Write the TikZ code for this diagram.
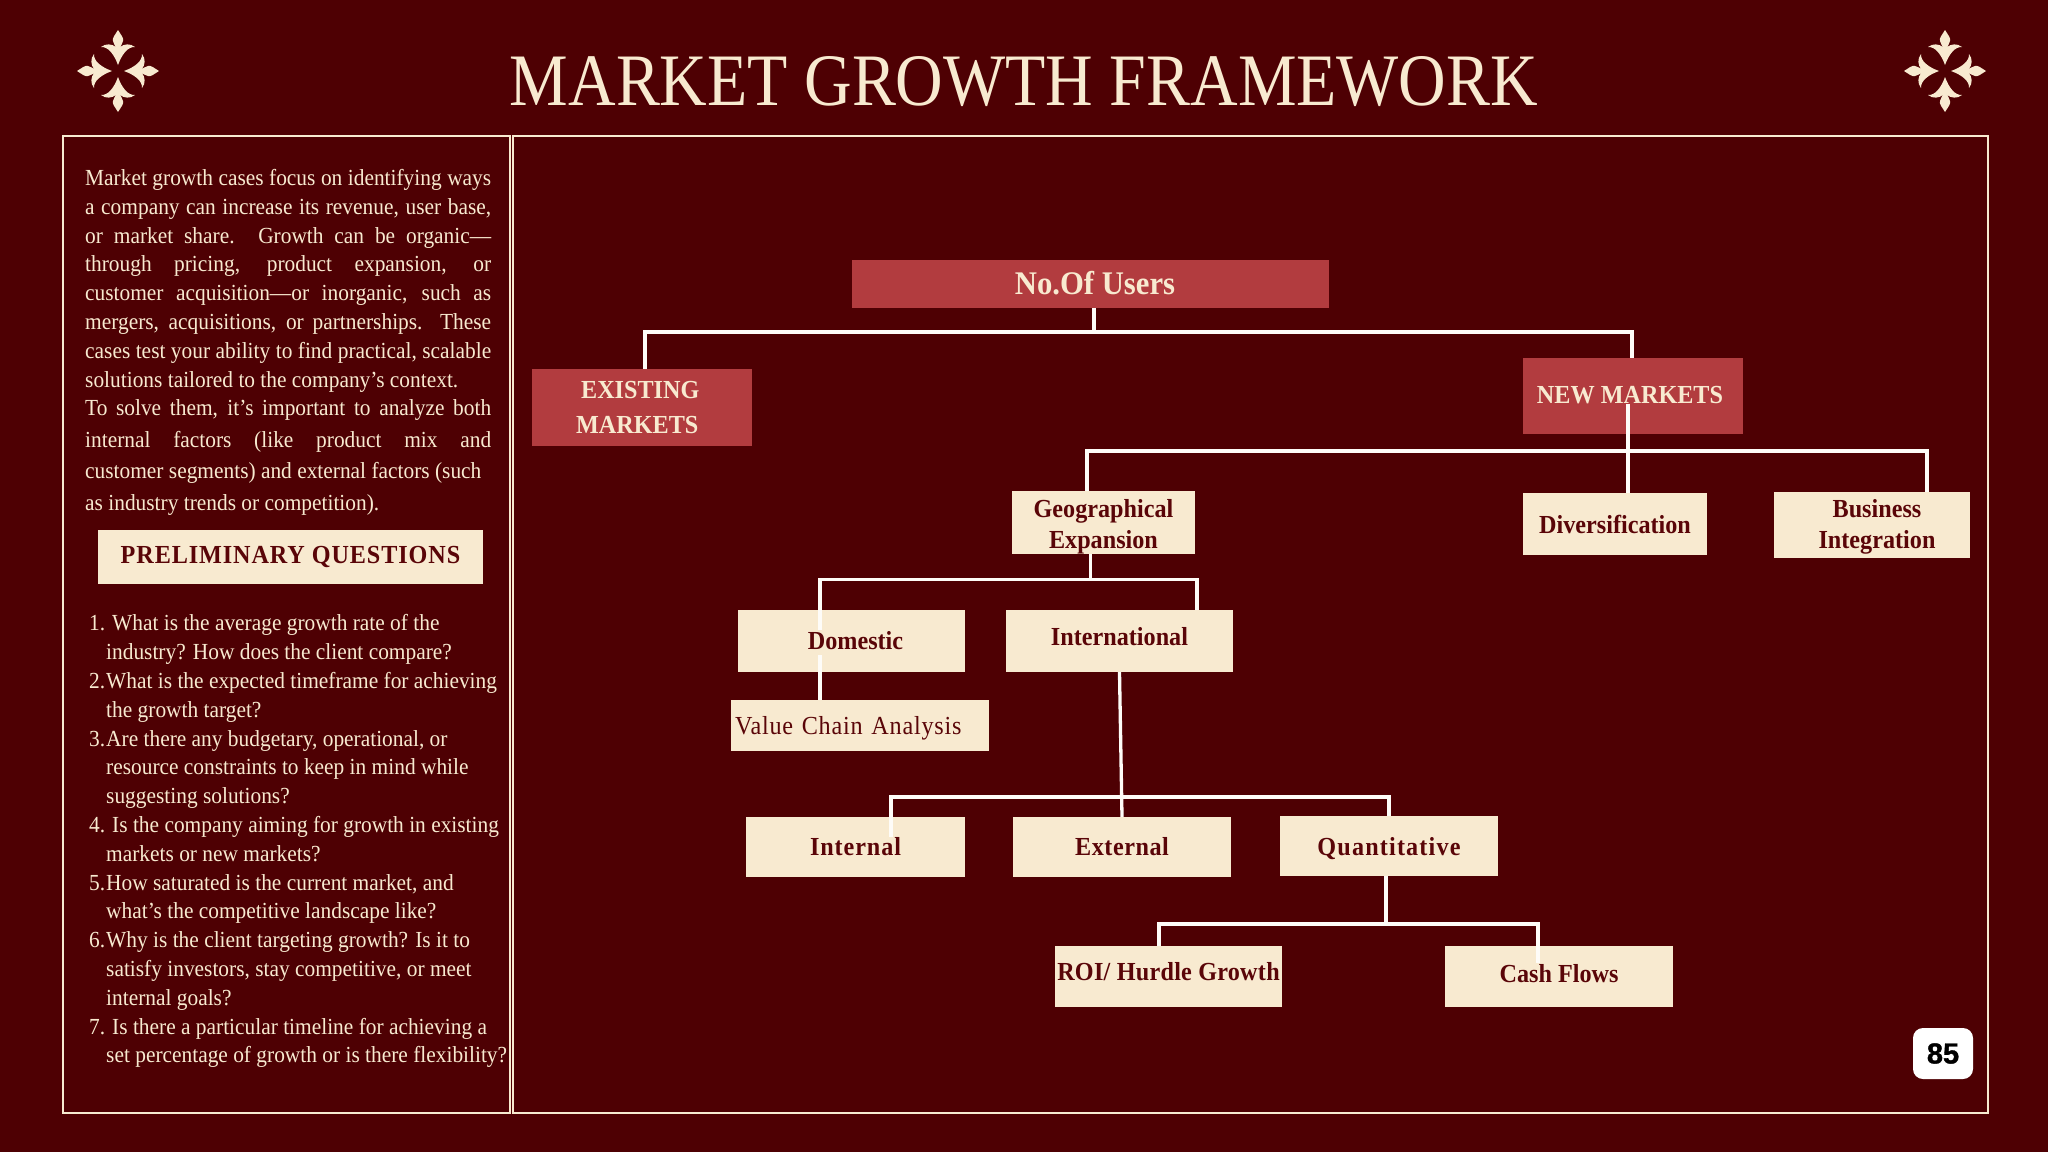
\documentclass[tikz,border=0pt]{standalone}
\usepackage{fontspec}
\usepackage{tikz}
\setmainfont{Liberation Serif}[FakeStretch=0.93]
\newfontfamily\titlefont{Liberation Serif}[FakeStretch=0.89]
\newfontfamily\pagefont{Liberation Sans}[BoldFeatures={FakeBold=1.2}]
\definecolor{wine}{HTML}{4E0003}
\definecolor{cream}{HTML}{F8EAD0}
\definecolor{brick}{HTML}{B23C3F}
\definecolor{inkred}{HTML}{5A0508}
\tikzset{
  redbox/.style={rectangle, fill=brick, text=cream, inner sep=0pt, align=center, font=\fontsize{26}{35}\selectfont\bfseries},
  creambox/.style={rectangle, fill=cream, text=inkred, inner sep=0pt, align=center, font=\fontsize{26}{31}\selectfont\bfseries},
  conn/.style={line width=3.3pt, draw=white!85!cream},
  frameline/.style={line width=2.5pt, draw=cream},
  bodytext/.style={text=cream, inner sep=0pt, anchor=north west}
}
\begin{document}
\begin{tikzpicture}[x=1pt, y=-1pt]
\useasboundingbox [fill=wine] (0,0) rectangle (2048,1152);

% ornaments
\foreach \cx in {118,1945}
  \foreach \ang in {0,90,180,270}
    \fill [cream, shift={(\cx,71)}, rotate=\ang] (0,-41) .. controls (-3,-36) and (-6,-33) .. (-5,-30) .. controls (-4,-27) and (-3,-25) .. (-2,-24) .. controls (-6,-27) and (-12,-28) .. (-17,-24) .. controls (-10,-24.5) and (-4,-17) .. (0,-6) .. controls (4,-17) and (10,-24.5) .. (17,-24) .. controls (12,-28) and (6,-27) .. (2,-24) .. controls (3,-25) and (4,-27) .. (5,-30) .. controls (6,-33) and (3,-36) .. (0,-41) -- cycle;

\node [text=cream, inner sep=0pt, font=\titlefont\fontsize{74}{74}\selectfont] (title) at (1024,82) {MARKET GROWTH FRAMEWORK};

% panels
\draw [frameline] (63,136) rectangle (510,1113);
\draw [frameline] (513,136) rectangle (1988,1113);

% left panel
\node [bodytext, text width=406pt, align=justify, font=\fontsize{23}{28.8}\selectfont] (intro) at (85,169) {Market growth cases focus on identifying ways\linebreak a company can increase its revenue, user base,\linebreak or market share. Growth can be organic---\linebreak through pricing, product expansion, or\linebreak customer acquisition---or inorganic, such as\linebreak mergers, acquisitions, or partnerships. These\linebreak cases test your ability to find practical, scalable\linebreak solutions tailored to the company's context.\\ \makebox[406pt][s]{To solve them, it's important to analyze both}};
\node [bodytext, text width=406pt, align=justify, font=\fontsize{23}{31.3}\selectfont] (intromore) at (85,431) {internal factors (like product mix and\linebreak customer segments) and external factors (such\\ as industry trends or competition).};
\node [creambox, minimum width=385pt, minimum height=54pt, font=\fontsize{26}{30}\selectfont\bfseries] (prelim) at (290.5,557) {\addfontfeature{LetterSpace=3.5}PRELIMINARY QUESTIONS};
\node [bodytext, align=left, font=\fontsize{23}{28.8}\selectfont] (questions) at (89,614.5) {1.\hspace{7pt}What is the average growth rate of the\\
\hspace*{17pt}industry? How does the client compare?\\
2.\hspace{1pt}What is the expected timeframe for achieving\\
\hspace*{17pt}the growth target?\\
3.\hspace{1pt}Are there any budgetary, operational, or\\
\hspace*{17pt}resource constraints to keep in mind while\\
\hspace*{17pt}suggesting solutions?\\
4.\hspace{7pt}Is the company aiming for growth in existing\\
\hspace*{17pt}markets or new markets?\\
5.\hspace{1pt}How saturated is the current market, and\\
\hspace*{17pt}what's the competitive landscape like?\\
6.\hspace{1pt}Why is the client targeting growth? Is it to\\
\hspace*{17pt}satisfy investors, stay competitive, or meet\\
\hspace*{17pt}internal goals?\\
7.\hspace{7pt}Is there a particular timeline for achieving a\\
\hspace*{17pt}set percentage of growth or is there flexibility?};

% tree
\node [redbox, minimum width=477pt, minimum height=48pt, font=\fontsize{33}{33}\selectfont\bfseries] (users) at (1090.5,284) {\raisebox{1.5pt}{\hspace*{9pt}No.Of Users}};
\node [redbox, minimum width=219.5pt, minimum height=77pt] (existing) at (641.75,407.5) {EXISTING\hspace*{3pt}\\ MARKETS\hspace*{9pt}};
\node [redbox, minimum width=220pt, minimum height=76pt] (newmarkets) at (1633,396) {\raisebox{-7.5pt}[0pt][0pt]{NEW MARKETS\hspace*{6pt}}};
\node [creambox, minimum width=183pt, minimum height=61pt] (geo) at (1103.5,522.5) {\rule{0pt}{27pt}Geographical\\ Expansion};
\node [creambox, minimum width=184pt, minimum height=62pt] (divers) at (1615,524) {Diversification};
\node [creambox, minimum width=196pt, minimum height=66pt] (business) at (1872,525) {\rule{0pt}{22pt}\hspace*{10pt}Business\\ \hspace*{10pt}Integration};
\node [creambox, minimum width=227pt, minimum height=62pt] (domestic) at (851.5,641) {\hspace*{8pt}Domestic};
\node [creambox, minimum width=227pt, minimum height=62pt] (intl) at (1119.5,641) {\raisebox{8.5pt}{International}};
\node [creambox, minimum width=258pt, minimum height=51pt, text width=250pt, align=left, font=\fontsize{26}{30}\selectfont] (valuechain) at (860,725.5) {\raisebox{-8.5pt}[0pt][0pt]{\addfontfeature{LetterSpace=3}Value Chain Analysis}};
\node [creambox, minimum width=219pt, minimum height=60pt] (internal) at (855.5,847) {\addfontfeature{LetterSpace=3.5}Internal};
\node [creambox, minimum width=218pt, minimum height=60pt] (external) at (1122,847) {\addfontfeature{LetterSpace=2}External};
\node [creambox, minimum width=218pt, minimum height=60pt] (quant) at (1389,846) {\raisebox{-9pt}[0pt][0pt]{\addfontfeature{LetterSpace=4.5}Quantitative}};
\node [creambox, minimum width=227pt, minimum height=61pt] (roi) at (1168.5,976.5) {\raisebox{-3.5pt}[0pt][0pt]{\addfontfeature{LetterSpace=1}ROI/ Hurdle Growth}};
\node [creambox, minimum width=228pt, minimum height=61pt] (cash) at (1559,976.5) {\raisebox{5.5pt}{Cash Flows}};

\coordinate (usersbus) at (1094,332);
\coordinate (newbus) at (1628,451);
\coordinate (newstart) at (1628,404);
\coordinate (geobus) at (1090.5,579.5);
\coordinate (intlbus) at (1122,797);
\coordinate (quantbus) at (1386,924);
\coordinate (domesticin) at (820,630);
\coordinate (domesticout) at (820,655);
\coordinate (internalin) at (891,837);
\coordinate (cashin) at (1538,963);

\draw [conn] ([xshift=3.5pt]users.south) -- (usersbus);
\draw [conn] ([xshift=3.25pt]existing.north) |- (usersbus) -| ([xshift=-1pt]newmarkets.north);
\draw [conn] (newstart) -- (divers.north -| newstart);
\draw [conn] ([xshift=-16.5pt]geo.north) |- (newbus) -| ([xshift=55pt]business.north);
\draw [conn] ([xshift=-13pt]geo.south) -- (geobus);
\draw [conn] (domesticin) |- (geobus) -| ([xshift=77.5pt]intl.north);
\draw [conn] (domesticout) -- (valuechain.north -| domesticout);
\draw [conn] (intl.south) -- (external.north);
\draw [conn] (internalin) |- (intlbus) -| (quant.north);
\draw [conn] ([xshift=-3pt]quant.south) -- (quantbus);
\draw [conn] ([xshift=-9.5pt]roi.north) |- (quantbus) -| (cashin);

% page number
\node [rectangle, rounded corners=10pt, fill=white, text=black, inner sep=0pt, minimum width=60pt, minimum height=51pt, font=\pagefont\bfseries\fontsize{29}{29}\selectfont] (pagenum) at (1943,1053.5) {85};
\end{tikzpicture}
\end{document}
